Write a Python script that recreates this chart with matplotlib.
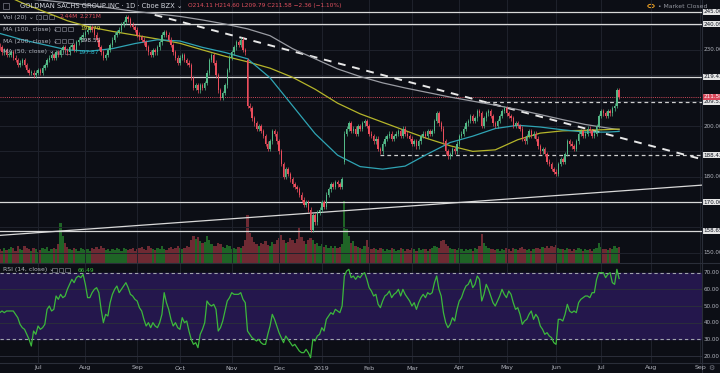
import numpy as np
import pandas as pd
import matplotlib.pyplot as plt
from matplotlib.patches import Rectangle
import matplotlib.transforms as mtransforms

BG = "#0c0e15"
GRID = "#1f222c"
TXT = "#b2b5be"
UP = "#53b987"
DOWN = "#eb4d5c"
VOL_UP = "#1f6426"
VOL_DOWN = "#6e2a33"
NARROW = ["Liberation Sans Narrow", "DejaVu Sans"]

HOLIDAYS = ["2018-07-04", "2018-09-03", "2018-11-22", "2018-12-05", "2018-12-25",
            "2019-01-01", "2019-01-21", "2019-02-18", "2019-04-19", "2019-05-27",
            "2019-07-04", "2019-09-02"]

# daily closes, 2018-06-07 .. 2019-07-12
CLOSES = [
    231, 229, 230, 228, 228, 229, 227, 226, 224, 225,
    226, 224, 222, 221, 221, 220, 221, 222, 221, 223,
    224, 226, 227, 228, 227, 229, 228, 230, 231, 230,
    229, 231, 232, 230, 233, 234, 235, 236, 237, 238,
    239, 238, 236, 234, 231, 229, 227, 228, 230, 232,
    234, 236, 237, 238, 240, 241, 243, 242, 240, 239,
    238, 236, 235, 234, 233, 231, 229, 228, 230, 229,
    231, 233, 236, 237, 236, 234, 232, 229, 227, 225,
    227, 228, 226, 225, 224, 219, 215, 216, 214, 216,
    215, 217, 221, 226, 228, 225, 220, 214, 211, 213,
    216, 222, 227, 229, 231, 233, 232, 234, 230, 229,
    208, 207, 203, 201, 199, 200, 198, 196, 193, 191,
    194, 198, 197, 194, 190, 185, 180, 183, 181, 179,
    177, 176, 175, 173, 171, 169, 170, 167, 159, 165,
    162, 166, 167, 170, 168, 173, 175, 177, 176, 178,
    177, 176, 179, 197, 199, 201, 198, 199, 197, 200,
    199, 201, 202, 200, 197, 196, 194, 195, 191, 190,
    193, 195, 196, 197, 195, 196, 197, 198, 196, 199,
    197, 196, 195, 193, 194, 192, 194, 196, 197, 196,
    198, 197, 198, 202, 205, 201, 199, 194, 190, 188,
    189, 191, 190, 193, 196, 197, 199, 201, 202, 204,
    202, 203, 206, 205, 200, 203, 205, 206, 204, 201,
    200, 202, 204, 206, 207, 205, 204, 203, 200, 201,
    200, 199, 195, 194, 196, 198, 196, 197, 195, 192,
    190, 191, 189, 186, 185, 183, 182, 181, 185, 187,
    186, 189, 194, 193, 192, 191, 194, 197, 198, 196,
    197, 199, 198, 196, 197, 200, 204, 206, 205, 204,
    206, 205, 207, 208, 214, 211.58,
]
GAP_OPENS = {0: 232, 110: 226, 153: 186, 275: 214.11}
WICK = 0.9

# volume in millions
VOLUME = [
    2.1, 1.8, 2.3, 1.9, 2.0, 2.4, 2.2, 1.7, 2.5, 2.0,
    1.9, 2.6, 2.2, 2.0, 1.8, 2.3, 2.1, 1.6, 1.9, 2.2,
    2.0, 2.4, 1.8, 2.1, 2.3, 2.0, 2.9, 6.0, 4.1, 3.0,
    2.4, 2.1, 1.9, 2.2, 2.0, 1.8, 2.3, 2.1, 1.9, 2.0,
    1.7, 2.2, 2.0, 2.4, 2.1, 2.6, 2.3, 1.9, 2.0, 1.8,
    2.1, 1.9, 2.3, 2.0, 1.8, 2.2, 2.0, 1.9, 2.1, 2.3,
    1.8, 2.0, 2.2, 2.4, 2.1, 1.9, 2.5, 2.2, 2.0, 1.9,
    2.3, 2.1, 2.6, 2.0, 1.9, 2.2, 2.4, 2.1, 2.3, 2.5,
    2.2, 2.0, 2.3, 2.6, 2.4, 3.4, 4.0, 3.6, 3.9, 3.3,
    3.0, 3.2, 4.1, 3.5, 2.8, 2.5, 2.6, 3.0, 2.9, 2.4,
    2.2, 2.7, 2.5, 2.1, 2.3, 2.0, 2.4, 2.2, 2.6, 3.4,
    7.3, 4.6, 3.9, 3.1, 2.9, 2.6, 3.0, 2.8, 3.3, 2.7,
    2.5, 3.1, 2.8, 3.4, 3.7, 4.2, 3.5, 3.0, 3.2, 3.8,
    3.4, 3.0, 3.6, 5.5, 3.9, 3.3, 2.9, 3.5, 3.8, 3.4,
    2.8, 3.0, 2.5, 2.9, 2.4, 2.7, 2.3, 2.5, 2.2, 2.6,
    2.3, 2.4, 2.9, 9.5, 5.2, 4.0, 3.0, 3.3, 2.6, 2.4,
    2.2, 2.0, 2.5, 3.5, 2.4, 2.1, 2.3, 2.0, 1.9, 2.2,
    2.0, 1.8, 2.1, 1.9, 2.3, 2.0, 1.7, 1.9, 2.2, 2.0,
    1.8, 2.1, 1.9, 2.3, 2.0, 1.8, 2.2, 1.9, 2.1, 2.0,
    1.7, 2.0, 2.2, 2.6, 2.4, 2.3, 3.3, 3.5, 2.8, 2.6,
    2.3, 2.0, 2.1, 1.9, 2.2, 2.0, 1.8, 2.1, 1.9, 2.0,
    1.8, 2.2, 2.0, 2.6, 4.3, 3.0, 2.6, 2.3, 2.1, 2.0,
    1.9, 2.1, 1.8, 2.0, 1.9, 2.2, 2.0, 1.8, 2.3, 2.1,
    1.9, 2.2, 2.4, 2.0, 1.9, 2.1, 1.8, 2.0, 2.2, 2.3,
    2.1, 2.4, 2.2, 2.5, 2.3, 2.6, 2.4, 2.7, 2.2, 2.0,
    2.1, 1.9, 2.3, 2.0, 1.8, 2.1, 1.9, 2.2, 2.0, 1.8,
    2.0, 1.9, 2.1, 1.8, 2.0, 2.2, 3.0, 2.4, 2.0, 2.1,
    1.9, 2.2, 2.0, 2.5, 2.3, 2.44,
]

RSI = [
    46, 47, 46, 47, 47, 47, 47, 45, 43, 39,
    37, 36, 33, 30, 26, 35, 33, 38, 36, 37,
    39, 48, 50, 47, 48, 56, 54, 57, 55, 56,
    60, 63, 66, 64, 67, 68, 67, 69, 63, 55,
    55, 58, 60, 61, 58, 48, 40, 45, 44, 52,
    57, 60, 62, 58, 60, 62, 64, 61, 57, 56,
    54, 53, 49, 47, 42, 38, 40, 37, 40, 38,
    37, 40, 45, 58, 52, 48, 42, 38, 40, 37,
    36, 43, 40, 41, 35, 30, 27, 28, 25, 33,
    36, 40, 53, 51, 50, 51, 48, 35, 37, 41,
    47, 53, 55, 58, 57, 57, 57, 58, 54, 52,
    35, 33, 31, 30, 29, 30, 28, 27, 27, 33,
    38, 45, 42, 38, 34, 31, 28, 32, 30, 28,
    26, 27, 25, 23, 22, 22, 24, 22, 19, 30,
    29, 32, 33, 37, 35, 42, 44, 46, 45, 48,
    47, 46, 50, 68, 71, 72, 67, 68, 66, 68,
    67, 69, 70, 66, 61, 59, 56, 57, 51, 49,
    53, 56, 57, 59, 55, 57, 58, 60, 56, 60,
    57, 55, 53, 50, 52, 48, 52, 55, 57, 55,
    58, 57, 58, 64, 68, 60, 56, 46, 40, 37,
    39, 43, 41, 48, 53, 55, 59, 62, 63, 66,
    61, 63, 68, 66, 53, 57, 63, 60, 56, 52,
    50, 53, 56, 60, 57, 55, 59, 57, 52, 48,
    49, 45, 39, 41, 42, 45, 47, 42, 45, 43,
    38, 36, 33, 34, 32, 31, 28, 27, 42, 42,
    41, 45, 51, 47, 46, 47, 46, 52, 54, 55,
    56, 56, 55, 58, 58, 66, 70, 70, 70, 67,
    69, 70, 64, 63, 72, 66.49,
]

# moving averages read every 10 bars
MA_IDX = [0, 10, 20, 30, 40, 50, 60, 70, 80, 90, 100, 110, 120, 130, 140,
          150, 160, 170, 180, 190, 200, 210, 220, 230, 240, 250, 260, 270, 275]
MA50 = [236.5, 234, 232, 230, 229.5, 230.5, 232.5, 234, 233.5, 231, 229, 226.5, 219, 208, 197,
        188.5, 184, 183, 184.2, 189, 193.5, 196, 199, 200.3, 199.6, 198.5, 197.6, 197.6, 197.87]
MA100 = [252.5, 248.5, 245, 241.5, 239, 237.3, 235.8, 234.3, 232.6, 230, 227.5, 225.3, 222.8, 219.2, 214.5,
         209, 204.8, 201.5, 198.2, 195, 192.2, 190, 190.6, 194.6, 197.2, 198.1, 198.3, 198.6, 198.79]
MA200 = [251, 250.3, 249.5, 248.6, 247.6, 246.4, 245.2, 244.2, 243.2, 241.8, 240.2, 238.3, 235.6, 230.5, 226.5,
         222.5, 219.5, 217, 215, 213.2, 211.4, 209.8, 208.2, 206.5, 204.5, 202.5, 200.6, 199.2, 198.55]

SOLID_LEVELS = [245.00, 240.09, 219.43, 170.00, 158.65]
DASHED_LEVELS = [209.53, 188.43]
DASHED_START = [213, 169]
LAST_PRICE = 211.58
TREND_SOLID_X = [0.1, 311.8]
TREND_SOLID_Y = [156.9, 176.7]
TREND_DASH_X = [68.8, 310.9]
TREND_DASH_Y = [243.8, 187.1]

PRICE_TICKS = [230, 200, 180, 150]
RSI_TICKS = [70, 60, 50, 40, 30, 20]

W, H = 720, 373


def fx(x):
    return x / W


def fy(y):
    return 1 - y / H


dates = pd.bdate_range("2018-06-07", "2019-09-10", freq="C", holidays=HOLIDAYS)
n = len(CLOSES)
idx = np.arange(n)
closes = np.array(CLOSES, dtype=float)
opens = np.concatenate([[closes[0]], closes[:-1]])
for k, v in GAP_OPENS.items():
    opens[k] = v
up = closes >= opens

# month boundaries
month_pos, month_lbl = [], []
for i in range(1, len(dates)):
    if dates[i].month != dates[i - 1].month:
        month_pos.append(i)
        month_lbl.append("2019" if dates[i].month == 1 else dates[i].strftime("%b"))

XMIN, XMAX = 0.1, 311.8

fig = plt.figure(figsize=(W / 100, H / 100), dpi=100, facecolor=BG)
ax = fig.add_axes([0, fy(262.5), fx(702), 262.5 / H])
ax_rsi = fig.add_axes([0, fy(363), fx(702), (363 - 263.5) / H])

for a in (ax, ax_rsi):
    a.set_facecolor(BG)
    a.set_xlim(XMIN, XMAX)
    for s in a.spines.values():
        s.set_visible(False)
    a.set_xticks([])
    a.set_yticks([])
    for p in month_pos:
        a.axvline(p, color=GRID, lw=0.7, zorder=0)

ax.set_ylim(146.2, 249.67)
for lv in range(150, 250, 10):
    ax.axhline(lv, color=GRID, lw=0.7, zorder=0)

# volume
ax_vol = ax.twinx()
ax_vol.set_ylim(0, 40.3)
ax_vol.set_xlim(XMIN, XMAX)
ax_vol.axis("off")
ax_vol.bar(idx, VOLUME, width=1.0, color=np.where(up, VOL_UP, VOL_DOWN), zorder=1)
ax.set_zorder(ax_vol.get_zorder() + 1)
ax.patch.set_visible(False)

# levels and trendlines
for lv in SOLID_LEVELS:
    ax.axhline(lv, color="#d9d9d9", lw=0.9, zorder=2)
for lv, st in zip(DASHED_LEVELS, DASHED_START):
    ax.hlines(lv, st, XMAX, color="#cfcfcf", lw=0.9, linestyles=(0, (3, 2.5)), zorder=2)
ax.axhline(LAST_PRICE, color="#d0485a", lw=0.7, ls=(0, (1, 1.2)), zorder=2)
ax.plot(TREND_SOLID_X, TREND_SOLID_Y, color="#d9d9d9", lw=0.9, zorder=2)
ax.plot(TREND_DASH_X, TREND_DASH_Y, color="#e8e8e8", lw=1.4, ls=(0, (4, 3.5)), zorder=2)

# moving averages
ax.plot(MA_IDX, MA200, color="#9a9ca3", lw=0.9, zorder=3)
ax.plot(MA_IDX, MA100, color="#b5b52a", lw=0.9, zorder=3)
ax.plot(MA_IDX, MA50, color="#2fa4b4", lw=0.9, zorder=3)

# candles
body_lo = np.minimum(opens, closes)
body_h = np.maximum(np.abs(closes - opens), 0.3)
cols = np.where(up, UP, DOWN)
ax.vlines(idx, body_lo - WICK, body_lo + body_h + WICK, color=cols, lw=0.5, zorder=4)
ax.bar(idx, body_h, bottom=body_lo, width=0.62, color=cols, zorder=5)

# RSI pane
ax_rsi.set_ylim(15.8, 75.5)
ax_rsi.fill_between([XMIN, XMAX], 30, 70, color="#24174c", zorder=0)
for lv in (20, 40, 50, 60):
    ax_rsi.axhline(lv, color="#2b2e3b", lw=0.7, zorder=1)
for lv in (30, 70):
    ax_rsi.axhline(lv, color="#a0a3ad", lw=0.8, ls=(0, (3, 2.5)), zorder=2)
ax_rsi.plot(idx, RSI, color="#3cb83c", lw=0.9, zorder=3)

# axis labels on the right
tr_main = mtransforms.blended_transform_factory(ax.transAxes, ax.transData)
tr_rsi = mtransforms.blended_transform_factory(ax_rsi.transAxes, ax_rsi.transData)
LBL = 4.1
LX = 1.0025
for t in PRICE_TICKS:
    ax.text(LX, t, f"{t:.2f}", transform=tr_main, fontsize=LBL, color=TXT, family=NARROW,
            va="center", ha="left", clip_on=False)
for lv in SOLID_LEVELS + DASHED_LEVELS:
    ax.text(LX, lv, f"{lv:.2f}", transform=tr_main, fontsize=LBL, color="#131722", family=NARROW,
            va="center", ha="left", clip_on=False,
            bbox=dict(boxstyle="square,pad=0.1", fc="#e6e6e6", ec="none"))
ax.text(LX, LAST_PRICE, f"{LAST_PRICE:.2f}", transform=tr_main, fontsize=LBL, color="white",
        family=NARROW, va="center", ha="left", clip_on=False,
        bbox=dict(boxstyle="square,pad=0.1", fc="#d8475a", ec="none"))
for t in RSI_TICKS:
    ax_rsi.text(LX, t, f"{t:.2f}", transform=tr_rsi, fontsize=LBL, color=TXT, family=NARROW,
                va="center", ha="left", clip_on=False)

# date axis
for p, lbl in zip(month_pos, month_lbl):
    fig.text(fx((p - XMIN) * 702 / (XMAX - XMIN)), fy(368), lbl,
             fontsize=4.5, color=TXT, ha="center", va="center")

# separators
fig.add_artist(plt.Line2D([0, 1], [fy(262.8)] * 2, color="#2a2e39", lw=0.8))
fig.add_artist(plt.Line2D([0, 1], [fy(363.3)] * 2, color="#2a2e39", lw=0.8))
fig.add_artist(plt.Line2D([fx(702)] * 2, [0, 1], color="#2a2e39", lw=0.8))


def icons(x, y):
    for k in range(3):
        fig.add_artist(Rectangle((fx(x + k * 6.5), fy(y + 2.4)), 4.8 / W, 4.8 / H,
                                 transform=fig.transFigure, fill=False,
                                 ec="#787b86", lw=0.5))


# legend texts
LEG = 4.4
fig.add_artist(Rectangle((fx(3), fy(9)), 6 / W, 6 / H, transform=fig.transFigure,
                         fill=False, ec="#787b86", lw=0.5))
fig.text(fx(20), fy(6), "GOLDMAN SACHS GROUP INC · 1D · Cboe BZX ⌄", fontsize=4.9,
         color="#d1d4dc", va="center")
fig.text(fx(188), fy(6), "O214.11 H214.60 L209.79 C211.58 −2.36 (−1.10%)",
         fontsize=4.2, color="#e0505e", va="center")

rows = [
    (17, "Vol (20) ⌄", 36, [("2.44M", "#e0505e", 60), ("2.271M", "#e0505e", 80)]),
    (29, "MA (100, close) ⌄", 55, [("198.79", "#d4d43a", 80)]),
    (41, "MA (200, close) ⌄", 55, [("198.55", "#d1d4dc", 80)]),
    (52, "MA (50, close) ⌄", 52, [("197.87", "#2fb7c9", 78)]),
    (270, "RSI (14, close) ⌄", 52, [("66.49", "#3cc83c", 78)]),
]
for y, label, ix, vals in rows:
    fig.text(fx(3), fy(y), label, fontsize=LEG, color=TXT, va="center")
    icons(ix, y)
    for s, c, vx in vals:
        fig.text(fx(vx), fy(y), s, fontsize=4.2, color=c, va="center")

fig.add_artist(plt.Circle((fx(651), fy(6)), 3.2 / W, transform=fig.transFigure,
                          fill=False, ec="#f5a623", lw=0.7))
fig.text(fx(658), fy(6), "• Market Closed", fontsize=4.4, color="#9598a1", va="center")
fig.text(fx(711), fy(368), "⚙", fontsize=5, color="#787b86", ha="center", va="center")

fig.savefig("out.png", dpi=100, facecolor=BG)
